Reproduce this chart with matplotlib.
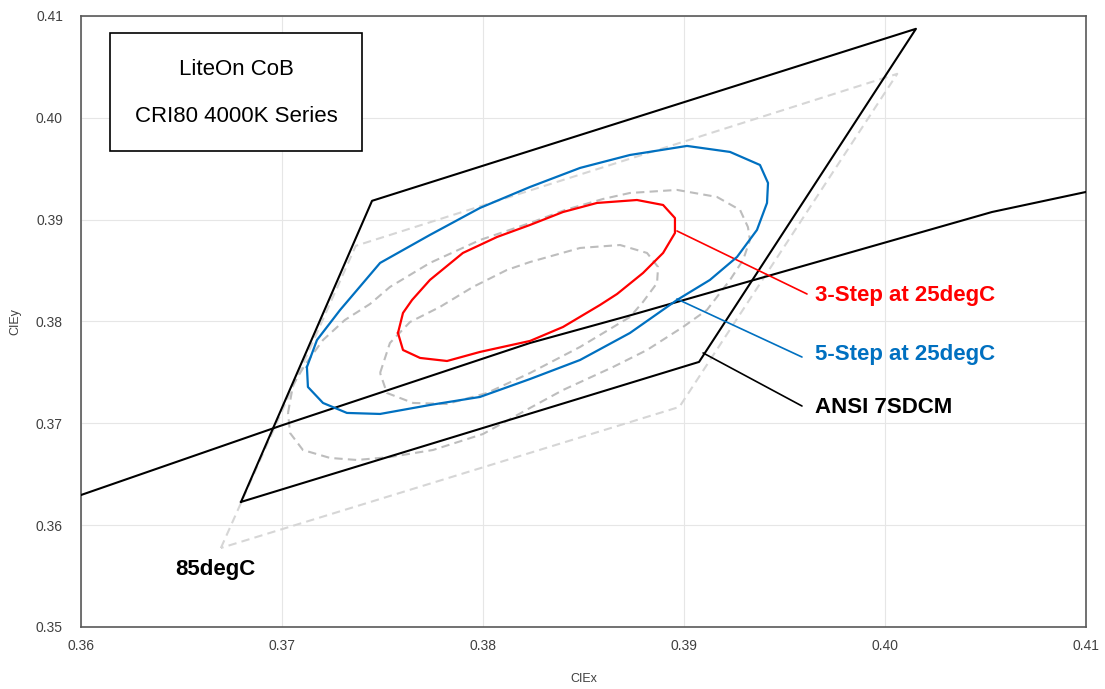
import numpy as np
import matplotlib
matplotlib.use("Agg")
import matplotlib.pyplot as plt
from matplotlib.patches import Rectangle

plt.rcParams['font.family'] = ['Liberation Sans', 'DejaVu Sans']

# ANSI 7-step quadrangle (25degC) and the same bin at 85degC
ansi_x = [0.36796, 0.37448, 0.40154, 0.39075, 0.36796]
ansi_y = [0.36228, 0.39185, 0.40874, 0.37603, 0.36228]
hot_x = [0.36696, 0.37367, 0.40061, 0.38977, 0.36696]
hot_y = [0.35776, 0.38743, 0.40432, 0.37161, 0.35776]

# black-body locus
bbl_x = [0.36000, 0.36990, 0.38234, 0.38721, 0.40532, 0.41000]
bbl_y = [0.36296, 0.36974, 0.37789, 0.38054, 0.39075, 0.39272]

# 5-step ellipse at 25degC
step5_x = [0.37124, 0.37174, 0.37289, 0.37488, 0.37736, 0.37985, 0.38234, 0.38483,
           0.38731, 0.39015, 0.39229, 0.39378, 0.39418, 0.39413, 0.39363, 0.39264,
           0.39129, 0.38965, 0.38731, 0.38483, 0.38234, 0.37985, 0.37736, 0.37488,
           0.37323, 0.37204, 0.37129, 0.37124]
step5_y = [0.37553, 0.37818, 0.38113, 0.38575, 0.38850, 0.39115, 0.39321, 0.39508,
           0.39635, 0.39724, 0.39665, 0.39537, 0.39360, 0.39164, 0.38899, 0.38634,
           0.38408, 0.38211, 0.37887, 0.37622, 0.37435, 0.37259, 0.37180, 0.37092,
           0.37102, 0.37200, 0.37357, 0.37553]

# 3-step ellipse at 25degC
step3_x = [0.37577, 0.37602, 0.37647, 0.37736, 0.37900, 0.38070, 0.38234, 0.38398,
           0.38567, 0.38766, 0.38896, 0.38955, 0.38955, 0.38896, 0.38796, 0.38667,
           0.38582, 0.38398, 0.38234, 0.37985, 0.37821, 0.37687, 0.37602, 0.37577]
step3_y = [0.37887, 0.38084, 0.38211, 0.38408, 0.38673, 0.38830, 0.38948, 0.39075,
           0.39164, 0.39193, 0.39144, 0.39016, 0.38869, 0.38673, 0.38476, 0.38270,
           0.38162, 0.37946, 0.37809, 0.37701, 0.37612, 0.37642, 0.37720, 0.37887]

# 5-step ellipse at 85degC
hot5_x = [0.37030, 0.37055, 0.37114, 0.37204, 0.37313, 0.37438, 0.37537, 0.37736,
          0.37985, 0.38234, 0.38408, 0.38597, 0.38731, 0.38965, 0.39164, 0.39279,
          0.39318, 0.39328, 0.39294, 0.39229, 0.39164, 0.39114, 0.38995, 0.38816,
          0.38647, 0.38398, 0.38234, 0.38000, 0.37751, 0.37537, 0.37373, 0.37239,
          0.37104, 0.37040, 0.37030]
hot5_y = [0.37102, 0.37377, 0.37573, 0.37818, 0.38015, 0.38172, 0.38339, 0.38575,
          0.38800, 0.38967, 0.39095, 0.39203, 0.39262, 0.39292, 0.39223, 0.39095,
          0.38928, 0.38800, 0.38604, 0.38408, 0.38241, 0.38113, 0.37946, 0.37720,
          0.37553, 0.37327, 0.37151, 0.36895, 0.36738, 0.36669, 0.36640, 0.36660,
          0.36738, 0.36905, 0.37102]

# 3-step ellipse at 85degC
hot3_x = [0.37488, 0.37537, 0.37637, 0.37786, 0.37950, 0.38119, 0.38234, 0.38483,
          0.38682, 0.38816, 0.38871, 0.38866, 0.38796, 0.38731, 0.38483, 0.38234,
          0.38020, 0.37821, 0.37652, 0.37522, 0.37488]
hot3_y = [0.37494, 0.37789, 0.37995, 0.38143, 0.38339, 0.38506, 0.38584, 0.38722,
          0.38751, 0.38673, 0.38535, 0.38378, 0.38192, 0.38044, 0.37750, 0.37494,
          0.37298, 0.37190, 0.37200, 0.37298, 0.37494]

xticks = [0.36, 0.37, 0.38, 0.39, 0.40, 0.41]
yticks = [0.35, 0.36, 0.37, 0.38, 0.39, 0.40, 0.41]

RED = '#FF0000'
BLUE = '#0070C0'
GRID = '#E6E6E6'
AXC = '#595959'

fig = plt.figure(figsize=(11.05, 6.89), dpi=100)
ax = fig.add_axes([0.0733, 0.0900, 0.9095, 0.8868])

dash = (0, (4, 2.5))
ax.plot(hot_x, hot_y, color='#D6D6D6', lw=1.5, ls=dash, zorder=2)
ax.plot(hot5_x, hot5_y, color='#BDBDBD', lw=1.5, ls=dash, zorder=2)
ax.plot(hot3_x, hot3_y, color='#BDBDBD', lw=1.5, ls=dash, zorder=2)
ax.plot(ansi_x, ansi_y, color='black', lw=1.5, zorder=3)
ax.plot(bbl_x, bbl_y, color='black', lw=1.5, zorder=3)
ax.plot(step5_x, step5_y, color=BLUE, lw=1.6, zorder=4)
ax.plot(step3_x, step3_y, color=RED, lw=1.6, zorder=4)

ax.set_xlim(0.36, 0.41)
ax.set_ylim(0.35, 0.41)
ax.set_xticks(xticks)
ax.set_yticks(yticks)
ax.set_xticklabels(['%.2f' % v for v in xticks])
ax.set_yticklabels(['%.2f' % v for v in yticks])
ax.tick_params(length=0, labelsize=10, labelcolor='#404040')
ax.tick_params(axis='x', pad=9)
ax.tick_params(axis='y', pad=13)
ax.grid(True, color=GRID, lw=0.8, zorder=0)
ax.set_axisbelow(True)
for s in ax.spines.values():
    s.set_color(AXC)
    s.set_linewidth(1.2)

ax.set_xlabel('CIEx', fontsize=9, color='#404040')
ax.set_ylabel('CIEy', fontsize=9, color='#404040')
ax.xaxis.set_label_coords(0.5, -0.075)
ax.yaxis.set_label_coords(-0.059, 0.5)

# leaders and labels
lab = dict(fontsize=16, fontweight='bold', ha='left', va='center')
ax.annotate('', xy=(0.38965, 0.38889), xytext=(0.39612, 0.38270),
            arrowprops=dict(arrowstyle='-', color=RED, lw=1.2, shrinkA=0, shrinkB=0))
ax.text(0.39652, 0.38260, '3-Step at 25degC', color=RED, **lab)
ax.annotate('', xy=(0.38965, 0.38221), xytext=(0.39587, 0.37651),
            arrowprops=dict(arrowstyle='-', color=BLUE, lw=1.2, shrinkA=0, shrinkB=0))
ax.text(0.39652, 0.37671, '5-Step at 25degC', color=BLUE, **lab)
ax.annotate('', xy=(0.39095, 0.37691), xytext=(0.39587, 0.37170),
            arrowprops=dict(arrowstyle='-', color='black', lw=1.2, shrinkA=0, shrinkB=0))
ax.text(0.39652, 0.37160, 'ANSI 7SDCM', color='black', **lab)
ax.text(0.36667, 0.35560, '85degC', color='black', fontsize=16,
        fontweight='bold', ha='center', va='center')

# title box
ax.add_patch(Rectangle((0.0289, 0.779), 0.2507, 0.1932, transform=ax.transAxes,
                       facecolor='white', edgecolor='black', lw=1.2, zorder=5))
ax.text(0.1543, 0.913, 'LiteOn CoB', transform=ax.transAxes, fontsize=16,
        ha='center', va='center', zorder=6)
ax.text(0.1543, 0.835, 'CRI80 4000K Series', transform=ax.transAxes, fontsize=16,
        ha='center', va='center', zorder=6)

fig.savefig('out.png', dpi=100)
